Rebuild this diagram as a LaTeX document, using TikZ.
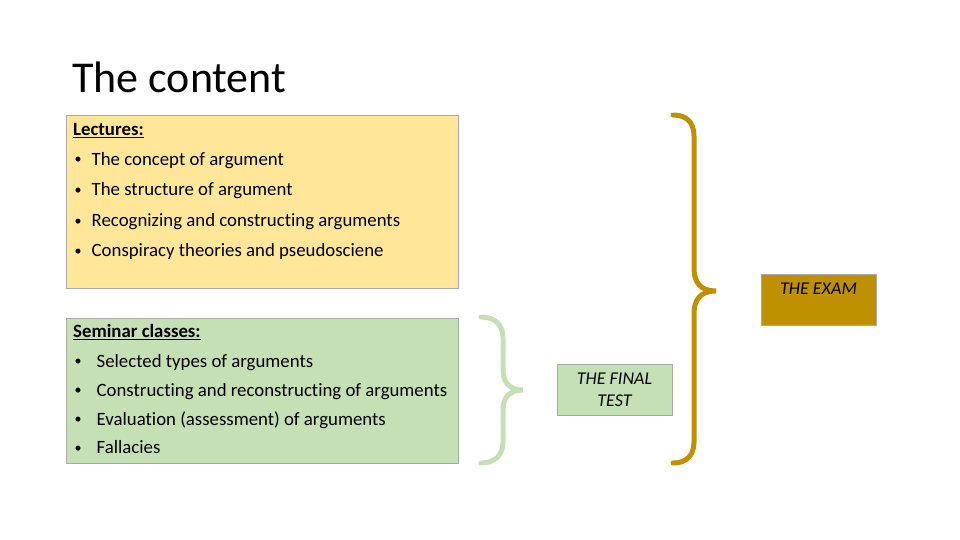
\documentclass[tikz,border=0pt]{standalone}
\usepackage{fontspec}
\setmainfont{Carlito}[Ligatures=NoCommon]
\usepackage{xcolor}
\usetikzlibrary{positioning}
\definecolor{lecyellow}{HTML}{FFE699}
\definecolor{semgreen}{HTML}{C5E0B4}
\definecolor{examgold}{HTML}{BF9000}
\definecolor{boxgray}{HTML}{ABABAB}
\tikzset{
  panel/.style={draw=boxgray,line width=0.8pt,minimum width=392pt,inner sep=0pt},
  itemtext/.style={anchor=base west,inner sep=0pt,font=\fontsize{18.8}{22}\selectfont},
  dot/.style={anchor=base west,inner sep=0pt,font=\fontsize{14}{14}\selectfont},
  tagbox/.style={draw=boxgray,line width=0.8pt,minimum width=115pt,minimum height=51pt,inner sep=0pt,
    align=center,font=\fontsize{18}{22}\selectfont\itshape},
  bracket/.style={line width=5pt,line cap=round}
}

\begin{document}
\begin{tikzpicture}[x=1pt,y=-1pt]
  \useasboundingbox[fill=white] (0,0) rectangle (960,540);
  \node[anchor=base west,inner sep=0pt,font=\fontsize{44}{50}\selectfont] (title) at (72,93) {The content};
  \node[panel,fill=lecyellow,minimum height=173pt] (lectures) at (262,201.5) {};
  \node[panel,fill=semgreen,minimum height=145pt] (seminar) at (262,390.5) {};
  \node[itemtext] (lechead) at (73,135.7) {\underline{\textbf{Lectures:}}};
  \foreach \y/\txt [count=\i] in {165/The concept of argument,196/The structure of argument,
      226.7/Recognizing and constructing arguments,256.7/Conspiracy theories and pseudosciene} {
    \node[dot] (lecdot\i) at (74.5,\y-1.5) {\textbullet};
    \node[itemtext] (lecitem\i) at (91.5,\y) {\txt};
  }
  \node[itemtext] (semhead) at (73,337.7) {\underline{\textbf{Seminar classes:}}};
  \foreach \y/\txt [count=\i] in {367/Selected types of arguments,396/Constructing and reconstructing of arguments,
      425/Evaluation (assessment) of arguments,453.5/Fallacies} {
    \node[dot] (semdot\i) at (74.5,\y-1.5) {\textbullet};
    \node[itemtext] (semitem\i) at (96.5,\y) {\txt};
  }
  \node[tagbox,fill=semgreen] (finaltest) at (614.5,389.5) {THE FINAL\\TEST};
  \node[tagbox,fill=examgold] (exam) at (818.5,299.5) {THE EXAM\\~};
  \draw[bracket,semgreen] (481,317) .. controls (495,317) and (503,325) .. (503,338) -- (503,370)
    .. controls (503,382) and (509,390) .. (523,390) .. controls (509,390) and (503,398) .. (503,410)
    -- (503,442) .. controls (503,455) and (495,463) .. (481,463);
  \draw[bracket,examgold] (673,115) .. controls (686,115) and (694,122) .. (694,136) -- (694,268)
    .. controls (694,282) and (700,291) .. (716,291) .. controls (700,291) and (694,300) .. (694,314)
    -- (694,442) .. controls (694,456) and (686,463) .. (673,463);
\end{tikzpicture}
\end{document}
